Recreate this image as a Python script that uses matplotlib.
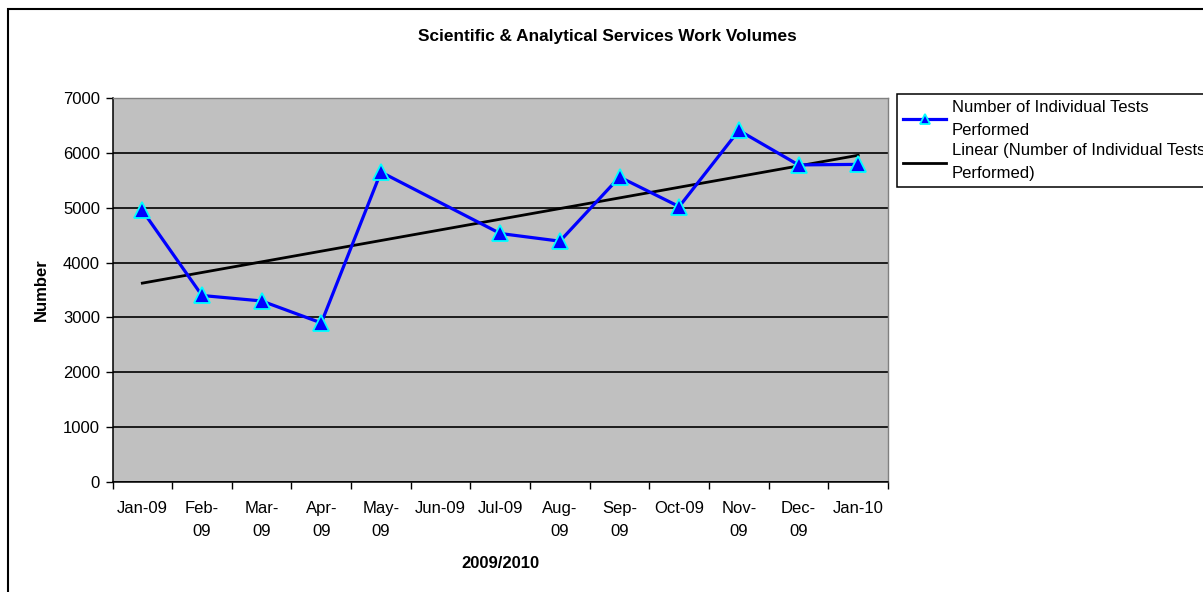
import numpy as np
import matplotlib
matplotlib.use("Agg")
import matplotlib.pyplot as plt
from matplotlib.patches import Rectangle

plt.rcParams['font.family'] = ['Liberation Sans', 'DejaVu Sans']

# data (Jun-09 has no value)
months = ["Jan-09", "Feb-\n09", "Mar-\n09", "Apr-\n09", "May-\n09", "Jun-09", "Jul-09",
          "Aug-\n09", "Sep-\n09", "Oct-09", "Nov-\n09", "Dec-\n09", "Jan-10"]
tests = [4950, 3400, 3300, 2900, 5650, np.nan, 4530, 4390, 5560, 5020, 6410, 5780, 5790]
yticks = [0, 1000, 2000, 3000, 4000, 5000, 6000, 7000]

W, H = 1203, 592
fig = plt.figure(figsize=(W / 100, H / 100), dpi=100)

# plot area in pixels: x 112..888, y 98..482
ax = fig.add_axes([112.5 / W, (H - 482) / H, (888 - 112.5) / W, (482 - 98) / H])
ax.set_facecolor('#C0C0C0')

x = np.arange(len(months))
y = np.array(tests, dtype=float)
ok = ~np.isnan(y)

line, = ax.plot(x[ok], y[ok], color='#0000FF', lw=2.3, marker='^', ms=11,
                mfc='#0000FF', mec='#00FFFF', mew=1.3, zorder=4,
                label='Number of Individual Tests\nPerformed')

# linear trend, as excel does it
k, b = np.polyfit(x[ok], y[ok], 1)
tx = np.array([x[0], x[-1]])
trend, = ax.plot(tx, k * tx + b, color='black', lw=2, zorder=3,
                 label='Linear (Number of Individual Tests\nPerformed)')

ax.set_xlim(-0.5, len(months) - 0.5)
ax.set_ylim(0, 7000)
ax.set_yticks(yticks)
ax.yaxis.grid(True, color='black', lw=1.2)
ax.set_axisbelow(True)

ax.set_xticks(np.arange(-0.5, len(months)), minor=False)
ax.set_xticklabels([])
ax.set_xticks(x, minor=True)
ax.set_xticklabels(months, minor=True, linespacing=1.7)
ax.tick_params(axis='x', which='major', length=5, width=1, direction='out')
ax.tick_params(axis='x', which='minor', length=0, pad=13.5, labelsize=12)
ax.tick_params(axis='y', length=5, width=1, labelsize=12, pad=4)

for s in ['left', 'bottom']:
    ax.spines[s].set_color('black')
    ax.spines[s].set_linewidth(1.1)
for s in ['top', 'right']:
    ax.spines[s].set_color('#808080')
    ax.spines[s].set_linewidth(1)

fig.text(607 / W, 1 - 36 / H, 'Scientific & Analytical Services Work Volumes',
         ha='center', va='center', fontsize=12.4, fontweight='bold')
fig.text(41 / W, 1 - 290 / H, 'Number', rotation=90, ha='center', va='center',
         fontsize=12, fontweight='bold')
fig.text(500 / W, 1 - 564 / H, '2009/2010', ha='center', va='center',
         fontsize=12, fontweight='bold')

leg = fig.legend(handles=[line, trend], loc='upper left',
                 bbox_to_anchor=(897 / W, 1 - 94 / H), fontsize=12,
                 frameon=True, fancybox=False, edgecolor='black', framealpha=1,
                 borderpad=0.35, handlelength=2.6, handletextpad=0.35,
                 labelspacing=0.35, numpoints=1, markerscale=0.6, borderaxespad=0)
leg.get_frame().set_linewidth(1.1)
for t in leg.get_texts():
    t.set_linespacing(1.65)

# outer chart border (clipped by the image on right and bottom)
fig.patches.append(Rectangle((8, -20), 1300, H - 9 + 20, transform=None,
                             fill=False, edgecolor='black', lw=1.5))

fig.savefig('out.png', dpi=100)
